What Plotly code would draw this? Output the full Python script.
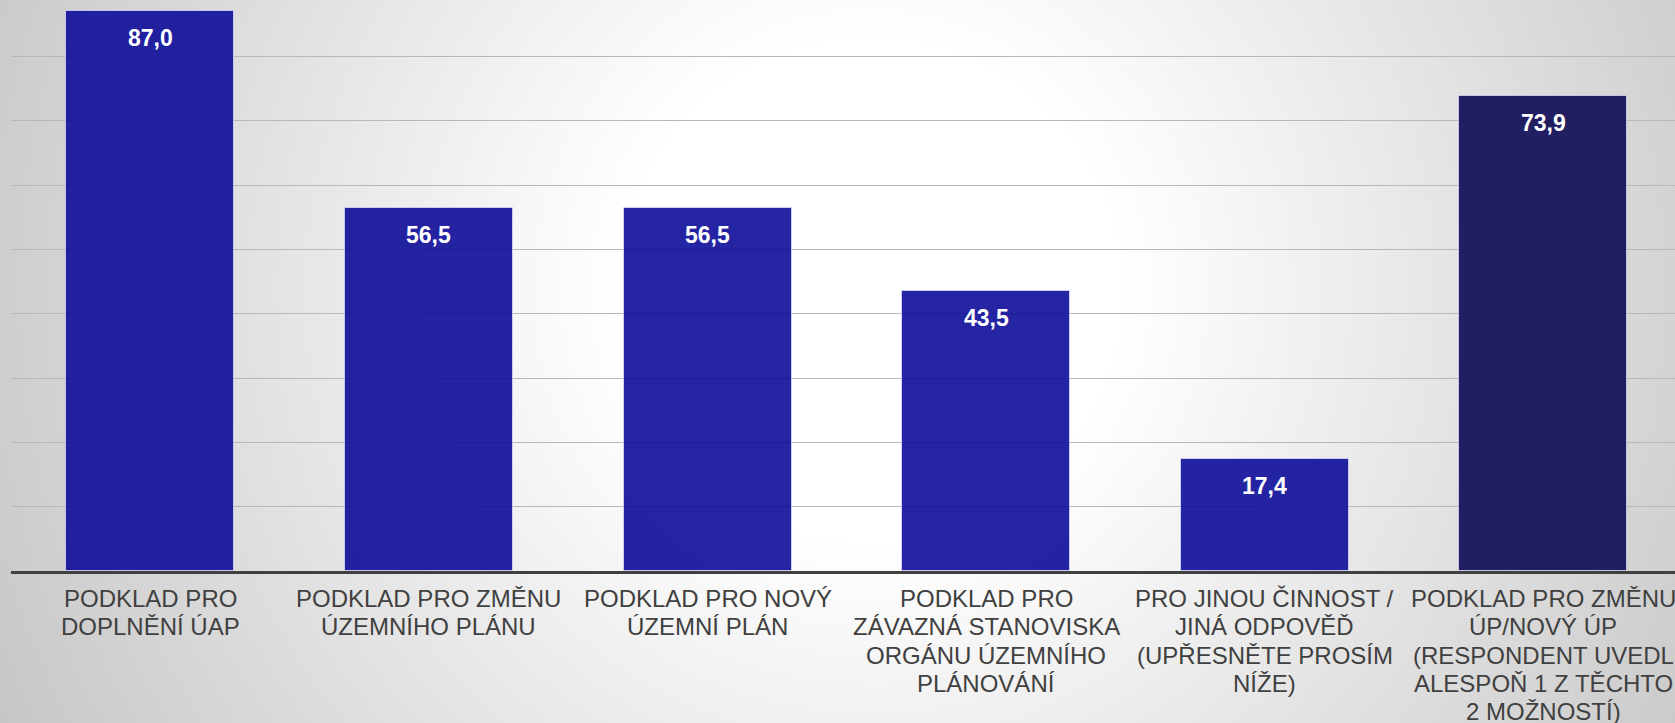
import base64
import plotly.graph_objects as go

categories = [
    "PODKLAD PRO<br>DOPLNĚNÍ ÚAP",
    "PODKLAD PRO ZMĚNU<br>ÚZEMNÍHO PLÁNU",
    "PODKLAD PRO NOVÝ<br>ÚZEMNÍ PLÁN",
    "PODKLAD PRO<br>ZÁVAZNÁ STANOVISKA<br>ORGÁNU ÚZEMNÍHO<br>PLÁNOVÁNÍ",
    "PRO JINOU ČINNOST /<br>JINÁ ODPOVĚĎ<br>(UPŘESNĚTE PROSÍM<br>NÍŽE)",
    "PODKLAD PRO ZMĚNU<br>ÚP/NOVÝ ÚP<br>(RESPONDENT UVEDL<br>ALESPOŇ 1 Z TĚCHTO<br>2 MOŽNOSTÍ)",
]
values = [87.0, 56.5, 56.5, 43.5, 17.4, 73.9]
bar_colors = ["rgb(14,14,154)"] * 5 + ["rgb(13,10,86)"]

W, H = 1675, 723
ML, MR, MT, MB = 11, 0, 0, 152
plot_w = W - ML - MR
plot_h = H - MT - MB
cat_px = 278.6
x_max = -0.5 + plot_w / cat_px
y_max = 570.7 / 6.43
LABEL_FONT = dict(family="Liberation Sans, Arial", size=24, color="#404040")
LINE_STEP = 28.3
LABEL_OFFSET = 12

svg = f'''<svg xmlns="http://www.w3.org/2000/svg" width="{W}" height="{H}" viewBox="0 0 {W} {H}">
<defs><radialGradient id="g" gradientUnits="userSpaceOnUse" cx="870" cy="290" r="1000">
<stop offset="0" stop-color="#ffffff"/><stop offset="0.25" stop-color="#ffffff"/>
<stop offset="1" stop-color="#c4c4c4"/></radialGradient></defs>
<rect width="{W}" height="{H}" fill="url(#g)"/></svg>'''
bg_uri = "data:image/svg+xml;base64," + base64.b64encode(svg.encode()).decode()

fig = go.Figure()
fig.add_trace(go.Bar(
    x=list(range(len(values))),
    y=values,
    width=0.603,
    marker=dict(color=bar_colors, opacity=0.9,
                line=dict(color="rgba(230,230,255,0.7)", width=1)),
    hoverinfo="skip",
))

for i, v in enumerate(values):
    fig.add_annotation(
        x=i, y=v, xref="x", yref="y",
        text=f"{v:.1f}".replace(".", ","),
        showarrow=False, yanchor="middle", yshift=-27,
        font=dict(family="Liberation Sans, Arial", size=23, color="white", weight="bold"),
    )

# category labels, one annotation per text line (to match the tighter line spacing)
for i, cat in enumerate(categories):
    for k, line in enumerate(cat.split("<br>")):
        fig.add_annotation(
            x=i, y=0, xref="x", yref="paper",
            text=line, showarrow=False,
            xanchor="center", yanchor="top",
            yshift=-(LABEL_OFFSET + k * LINE_STEP),
            font=LABEL_FONT,
        )

fig.add_layout_image(
    source=bg_uri, xref="paper", yref="paper",
    x=-ML / plot_w, y=1 + MT / plot_h,
    sizex=W / plot_w, sizey=H / plot_h,
    xanchor="left", yanchor="top", sizing="stretch", layer="below",
)

fig.update_layout(
    width=W, height=H,
    margin=dict(l=ML, r=MR, t=MT, b=MB, pad=0),
    paper_bgcolor="rgba(0,0,0,0)",
    plot_bgcolor="rgba(0,0,0,0)",
    showlegend=False,
    bargap=0,
    xaxis=dict(
        range=[-0.5, x_max],
        tickmode="array",
        tickvals=list(range(len(categories))),
        showticklabels=False,
        showgrid=False, zeroline=False,
        showline=True, linecolor="#404040", linewidth=3,
        ticks="", automargin=False,
    ),
    yaxis=dict(
        range=[0, y_max],
        dtick=10, tick0=0,
        showgrid=True, gridcolor="#b8b8b8", gridwidth=1,
        zeroline=False, showticklabels=False, showline=False,
        ticks="", automargin=False,
    ),
)

fig.write_html("out.html", config={"displayModeBar": False},
               post_script="document.body.style.margin='0';document.body.style.overflow='hidden';")
